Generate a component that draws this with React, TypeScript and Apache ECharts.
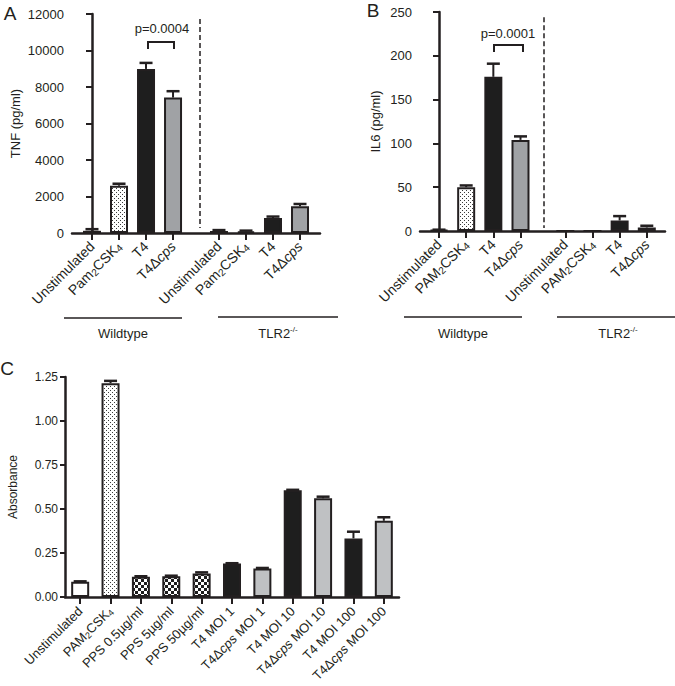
import React, { useEffect, useRef } from 'react';
import * as echarts from 'echarts';

// ---------- data ----------
const categoriesA = ['Unstimulated', 'Pam2CSK4', 'T4', 'T4Δcps'];
const categoriesB = ['Unstimulated', 'PAM2CSK4', 'T4', 'T4Δcps'];
const groupNames = ['Wildtype', 'TLR2'];
// bar positions on the x value axis (wildtype group, then TLR2-/- group)
const positionsA = [0, 1, 2, 3, 4.7, 5.7, 6.7, 7.7];
const positionsB = [0, 1, 2, 3, 4.65, 5.65, 6.65, 7.65];
const tnfMean = [120, 2590, 8990, 7420, 110, 90, 820, 1460];
const tnfUpper = [210, 2700, 9320, 7770, 160, 130, 900, 1590];
const il6Mean = [1, 50, 176, 104, 0, 0, 12, 4];
const il6Upper = [1.5, 52, 191, 108, 0, 0, 17, 6];
const categoriesC = [
  'Unstimulated', 'PAM2CSK4', 'PPS 0.5µg/ml', 'PPS 5µg/ml', 'PPS 50µg/ml',
  'T4 MOI 1', 'T4Δcps MOI 1', 'T4 MOI 10', 'T4Δcps MOI 10', 'T4 MOI 100', 'T4Δcps MOI 100',
];
const absMean = [0.087, 1.215, 0.115, 0.118, 0.134, 0.19, 0.162, 0.607, 0.561, 0.333, 0.433];
const absUpper = [0.089, 1.228, 0.118, 0.121, 0.14, 0.192, 0.165, 0.609, 0.57, 0.371, 0.453];
const pValueA = 'p=0.0004';
const pValueB = 'p=0.0001';

// ---------- style ----------
const FONT = "'Liberation Sans', Arial, Helvetica, sans-serif";
const INK = '#231f20';
const XFONT = 14;
const XFONT_C = 13;

function fmtLabel(s: string) {
  return s.replace(/(PAM|Pam)2CSK4/, '$1{sub|2}CSK{sub|4}').replace('Δcps', 'Δ{it|cps}');
}

function makeRich(size: number) {
  return {
    sub: { fontSize: Math.round(size * 0.68), fontFamily: FONT, color: INK, padding: [6, 0, 0, 0] },
    it: { fontSize: size, fontStyle: 'italic', fontFamily: FONT, color: INK },
  };
}

function makePattern(kind: string) {
  const c = document.createElement('canvas');
  const ctx = c.getContext('2d')!;
  if (kind === 'dots') {
    c.width = 4; c.height = 4;
    ctx.fillStyle = '#ffffff'; ctx.fillRect(0, 0, 4, 4);
    ctx.fillStyle = '#3a3a3a';
    ctx.fillRect(0, 0, 1, 1); ctx.fillRect(2, 2, 1, 1);
  } else {
    c.width = 6; c.height = 6;
    ctx.fillStyle = '#ffffff'; ctx.fillRect(0, 0, 6, 6);
    ctx.fillStyle = '#1e1e1e';
    ctx.fillRect(0, 0, 3, 3); ctx.fillRect(3, 3, 3, 3);
  }
  return { image: c, repeat: 'repeat' };
}

function fillFor(name: string, light: boolean, pats: any) {
  if (name.startsWith('Unstim')) return '#ffffff';
  if (name.includes('CSK')) return pats.dots;
  if (name.startsWith('PPS')) return pats.check;
  if (name.includes('Δcps')) return light ? '#bfc1c3' : '#a0a2a5';
  return '#1e1e1e';
}

function errorSeries(xIdx: number, xs: number[], means: number[], uppers: number[], cap: number) {
  return {
    type: 'custom',
    xAxisIndex: xIdx,
    yAxisIndex: xIdx,
    z: 5,
    silent: true,
    data: xs.map((x, i) => [x, uppers[i], means[i]]),
    encode: { x: 0, y: [1, 2] },
    renderItem: (_p: any, api: any) => {
      const x = api.value(0);
      const hi = api.value(1);
      const m = api.value(2);
      if (!(hi > m)) return { type: 'group', children: [] };
      const t = api.coord([x, hi]);
      const b = api.coord([x, m]);
      return {
        type: 'group',
        children: [
          { type: 'line', shape: { x1: t[0], y1: t[1], x2: b[0], y2: b[1] }, style: { stroke: INK, lineWidth: 2 } },
          { type: 'line', shape: { x1: t[0] - cap, y1: t[1], x2: t[0] + cap, y2: t[1] }, style: { stroke: INK, lineWidth: 2.5 } },
        ],
      };
    },
  };
}

function yAxisBase(grid: number, min: number, max: number, interval: number, name: string, gap: number, size: number, tickLen: number, fmt: (v: number) => string) {
  return {
    gridIndex: grid,
    type: 'value',
    min, max, interval,
    name,
    nameLocation: 'middle',
    nameGap: gap,
    nameTextStyle: { fontSize: size === 12 ? 12 : 13, fontFamily: FONT, color: INK },
    axisLine: { show: true, lineStyle: { color: INK, width: 2.5 } },
    axisTick: { show: true, length: tickLen, lineStyle: { color: INK, width: 2 } },
    splitLine: { show: false },
    axisLabel: { fontSize: size, fontFamily: FONT, color: INK, margin: tickLen + 2, formatter: fmt },
  };
}

function xValueAxis(grid: number, min: number, max: number, pos: number[], cats: string[]) {
  const fmt = (v: number) => {
    const i = pos.findIndex((p) => Math.abs(p - v) < 1e-6);
    return i < 0 ? '' : fmtLabel(cats[i % cats.length]);
  };
  return {
    gridIndex: grid,
    type: 'value',
    min, max,
    axisLine: { show: true, onZero: false, lineStyle: { color: INK, width: 2.5 } },
    axisTick: { show: true, length: 7, customValues: pos, lineStyle: { color: INK, width: 2 } },
    splitLine: { show: false },
    axisLabel: {
      customValues: pos,
      rotate: 45,
      margin: 11,
      fontSize: XFONT,
      fontFamily: FONT,
      color: INK,
      formatter: fmt,
      rich: makeRich(XFONT),
    },
  };
}

export default function App() {
  const ref = useRef<HTMLDivElement>(null);
  useEffect(() => {
    const chart = echarts.init(ref.current!, null, { renderer: 'svg' });
    const pats = { dots: makePattern('dots'), check: makePattern('check') };
    const border = { borderColor: INK, borderWidth: 2 };

    const barsAB = (pos: number[], vals: number[], cats: string[]) =>
      pos.map((x, i) => ({
        value: [x, vals[i]],
        itemStyle: { color: fillFor(cats[i % cats.length], false, pats), ...border },
      }));

    const dashed = (x: number, y1: number, y2: number) => ({
      silent: true,
      symbol: ['none', 'none'],
      label: { show: false },
      lineStyle: { type: [5, 3], color: INK, width: 1.5 },
      data: [[{ coord: [x, y1] }, { coord: [x, y2] }]],
    });

    const txt = (text: string, x: number, y: number, size: number, align = 'center', rich?: any) => ({
      type: 'text',
      x, y,
      style: {
        text, fontSize: size, fontFamily: FONT, fill: INK,
        align, textAlign: align, verticalAlign: 'middle', textVerticalAlign: 'middle',
        rich,
      },
    });
    const line = (x1: number, y1: number, x2: number, y2: number, w = 1.5) => ({
      type: 'line', shape: { x1, y1, x2, y2 }, style: { stroke: INK, lineWidth: w },
    });
    const bracket = (xa: number, xb: number, y: number, h: number) => ({
      type: 'polyline',
      shape: { points: [[xa, y + h], [xa, y], [xb, y], [xb, y + h]] },
      style: { stroke: INK, lineWidth: 2, fill: 'none' },
    });
    const supRich = { sup: { fontSize: 8, fontFamily: FONT, fill: INK, color: INK, padding: [0, 0, 8, 0] } };

    const option: any = {
      animation: false,
      backgroundColor: '#ffffff',
      textStyle: { fontFamily: FONT },
      grid: [
        { left: 72, top: 14, width: 248, height: 219, outerBoundsMode: 'none', containLabel: false },
        { left: 420, top: 12, width: 245, height: 219, outerBoundsMode: 'none', containLabel: false },
        { left: 65, top: 377, width: 334, height: 220, outerBoundsMode: 'none', containLabel: false },
      ],
      xAxis: [
        xValueAxis(0, -0.74, 8.44, positionsA, categoriesA),
        xValueAxis(1, -0.7, 8.32, positionsB, categoriesB),
        {
          gridIndex: 2,
          type: 'category',
          data: categoriesC,
          axisLine: { show: true, lineStyle: { color: INK, width: 2.5 } },
          axisTick: { show: true, alignWithLabel: true, length: 7, lineStyle: { color: INK, width: 2 } },
          axisLabel: {
            interval: 0, rotate: 45, margin: 12, fontSize: XFONT_C, fontFamily: FONT, color: INK,
            formatter: (v: string) => fmtLabel(v),
            rich: makeRich(XFONT_C),
          },
        },
      ],
      yAxis: [
        yAxisBase(0, 0, 12000, 2000, 'TNF (pg/ml)', 50, 13, 6, (v: number) => String(v)),
        yAxisBase(1, 0, 250, 50, 'IL6 (pg/ml)', 38, 13, 6, (v: number) => String(v)),
        yAxisBase(2, 0, 1.25, 0.25, 'Absorbance', 46, 12, 5, (v: number) => v.toFixed(2)),
      ],
      series: [
        {
          type: 'bar', xAxisIndex: 0, yAxisIndex: 0, barWidth: 18,
          data: barsAB(positionsA, tnfMean, categoriesA),
          markLine: dashed(4.0, 11720, 280),
        },
        errorSeries(0, positionsA, tnfMean, tnfUpper, 6.5),
        {
          type: 'bar', xAxisIndex: 1, yAxisIndex: 1, barWidth: 18,
          data: barsAB(positionsB, il6Mean, categoriesB),
          markLine: dashed(3.87, 244, 3.5),
        },
        errorSeries(1, positionsB, il6Mean, il6Upper, 6.5),
        {
          type: 'bar', xAxisIndex: 2, yAxisIndex: 2, barWidth: 18,
          data: categoriesC.map((c, i) => ({
            value: absMean[i],
            itemStyle: { color: fillFor(c, true, pats), ...border },
          })),
        },
        errorSeries(2, categoriesC.map((_, i) => i), absMean, absUpper, 6.5),
      ],
      graphic: [
        txt('A', 10, 13, 19),
        txt('B', 373, 10, 19),
        txt('C', 7, 368, 19),
        bracket(148, 174, 42, 7),
        txt(pValueA, 162, 28, 13),
        bracket(494, 523, 45, 7),
        txt(pValueB, 508, 33, 13),
        line(64, 318, 182, 318),
        txt(groupNames[0], 123, 333, 13),
        line(218, 317, 338, 317),
        txt(groupNames[1] + '{sup|-/-}', 278, 333, 13, 'center', supRich),
        line(404, 317, 522, 317),
        txt(groupNames[0], 463, 333, 13),
        line(557, 317, 675, 317),
        txt(groupNames[1] + '{sup|-/-}', 618, 333, 13, 'center', supRich),
      ],
    };
    chart.setOption(option);
    return () => chart.dispose();
  }, []);
  return (
    <div
      ref={ref}
      style={{ position: 'fixed', left: 0, top: 0, width: 675, height: 686, background: '#fff' }}
    />
  );
}
